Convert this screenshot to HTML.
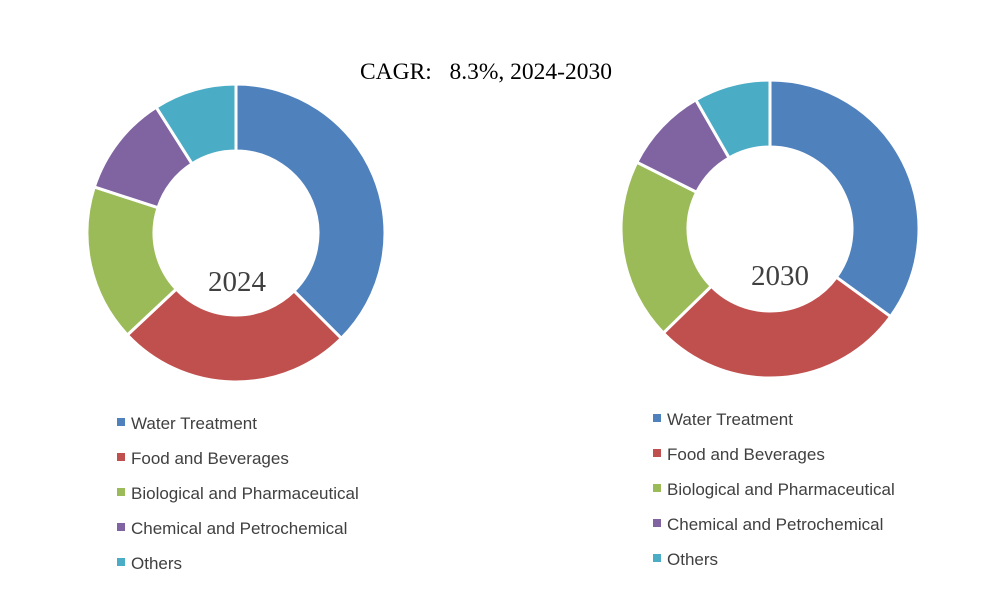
<!DOCTYPE html>
<html><head><meta charset="utf-8"><style>
body{margin:0;background:#fff;}
svg{display:block;}
</style></head><body>
<svg id="chart" width="1004" height="591">
<text x="486" y="79" text-anchor="middle" font-family="Liberation Serif, serif" font-size="23.5" fill="#000" xml:space="preserve">CAGR:   8.3%, 2024-2030</text>
</svg>
<script>
const categories=["Water Treatment","Food and Beverages","Biological and Pharmaceutical","Chemical and Petrochemical","Others"];
const values2024=[37.5,25.5,17,11,9];
const values2030=[35,27.7,19.7,9.3,8.3];
const years=["2024","2030"];
const colors=["#4F81BD","#C0504D","#9BBB59","#8064A2","#4BACC6"];
const svg=document.getElementById('chart');
const NS="http://www.w3.org/2000/svg";
function mk(t,a){const e=document.createElementNS(NS,t);for(const k in a)e.setAttribute(k,a[k]);svg.appendChild(e);return e;}
function donut(vals,cx,cy,R,r,label,lx,ly,legX,legY,yr){
  const tot=vals.reduce((a,b)=>a+b,0);let a0=0;
  vals.forEach((v,i)=>{
    const a1=a0+v/tot*2*Math.PI;
    const p=(ang,rad)=>[cx+rad*Math.sin(ang),cy-rad*Math.cos(ang)];
    const [x1,y1]=p(a0,R),[x2,y2]=p(a1,R),[x3,y3]=p(a1,r),[x4,y4]=p(a0,r);
    const lg=(a1-a0)>Math.PI?1:0;
    const e=mk('path',{d:`M${x1},${y1}A${R},${R} 0 ${lg} 1 ${x2},${y2}L${x3},${y3}A${r},${r} 0 ${lg} 0 ${x4},${y4}Z`,fill:colors[i],stroke:'#fff','stroke-width':3});
    
    
    a0=a1;
  });
  const t=mk('text',{x:lx,y:ly,'text-anchor':'middle','font-family':'Liberation Serif, serif','font-size':29,fill:'#404040'});
  t.textContent=label;
  
  
  categories.forEach((c,i)=>{
    const y=legY+i*35;
    const s=mk('rect',{x:legX,y:y-5,width:8,height:8,fill:colors[i]});
    
    
    const tx=mk('text',{x:legX+14,y:y+6,'font-family':'Liberation Sans, sans-serif','font-size':17,fill:'#404040'});
    tx.textContent=c;
    
    
  });
}
donut(values2024,236,233,149,82,years[0],237,291,117,423,'2024');
donut(values2030,770,229,149,82,years[1],780,285,653,419,'2030');
</script>
</body></html>
